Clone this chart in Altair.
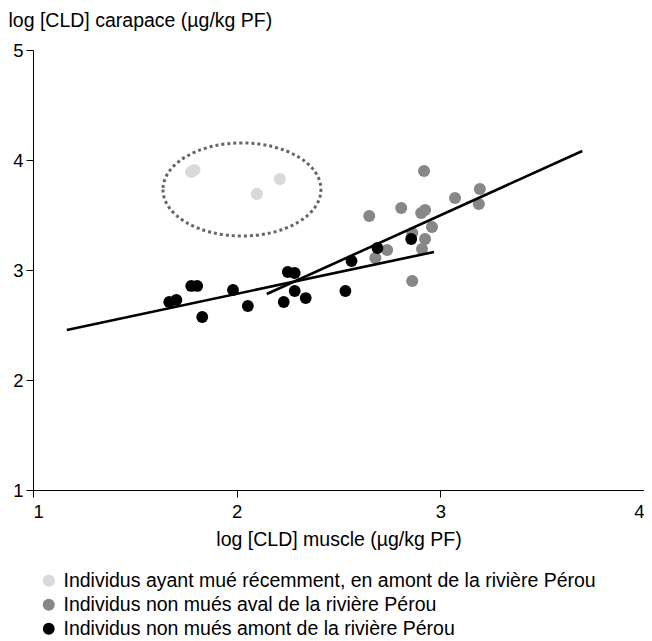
import altair as alt
import pandas as pd

# --- data ---
black_x = [1.669, 1.704, 1.777, 1.806, 1.831, 1.982, 2.055, 2.231, 2.251, 2.285, 2.285, 2.339, 2.534, 2.564, 2.691, 2.857]
black_y = [2.709, 2.727, 2.855, 2.855, 2.573, 2.818, 2.673, 2.709, 2.982, 2.973, 2.809, 2.745, 2.809, 3.082, 3.200, 3.282]

gray_x = [2.920, 3.194, 3.072, 3.189, 2.808, 2.651, 2.906, 2.925, 2.959, 2.925, 2.739, 2.910, 2.681, 2.862, 2.862]
gray_y = [3.900, 3.736, 3.655, 3.600, 3.564, 3.491, 3.518, 3.545, 3.391, 3.282, 3.182, 3.191, 3.109, 2.900, 3.336]

light_x = [1.777, 1.792, 2.099, 2.212]
light_y = [3.891, 3.909, 3.691, 3.827]

groups = [
    "Individus ayant mué récemment, en amont de la rivière Pérou",
    "Individus non mués aval de la rivière Pérou",
    "Individus non mués amont de la rivière Pérou",
]
colors = ["#d9d9d9", "#878787", "#000000"]

# regression lines (endpoints)
line_x1 = [1.166, 2.148]
line_y1 = [2.455, 2.782]
line_x2 = [2.969, 3.697]
line_y2 = [3.164, 4.082]

# ellipse annotation centre
ell_x = [2.026]
ell_y = [3.732]

x_ticks = [1, 2, 3, 4]
y_ticks = [1, 2, 3, 4, 5]

FONT = "Liberation Sans"

rows = []
for gx, gy, g in [(light_x, light_y, groups[0]), (gray_x, gray_y, groups[1]), (black_x, black_y, groups[2])]:
    for a, b in zip(gx, gy):
        rows.append({"x": a, "y": b, "g": g})
pts = pd.DataFrame(rows)
pts["ord"] = pts["g"].map({groups[0]: 0, groups[1]: 1, groups[2]: 2})

lines = pd.DataFrame({"x": line_x1, "y": line_y1, "x2": line_x2, "y2": line_y2})
ell = pd.DataFrame({"x": ell_x, "y": ell_y})

xs = alt.Scale(domain=[1, 4], nice=False, zero=False)
ys = alt.Scale(domain=[1, 5], nice=False, zero=False)

xaxis = alt.Axis(values=x_ticks, title="log [CLD] muscle (µg/kg PF)", grid=False,
                 tickSize=7, labelPadding=5, titlePadding=10, format="d")
yaxis = alt.Axis(values=y_ticks, title="log [CLD] carapace (µg/kg PF)", grid=False,
                 tickSize=7, labelPadding=3, titleAngle=0, titleAlign="left",
                 titleBaseline="alphabetic", titleX=-25, titleY=-24, format="d")

points = alt.Chart(pts).mark_circle(opacity=1).encode(
    x=alt.X("x:Q", scale=xs, axis=xaxis),
    y=alt.Y("y:Q", scale=ys, axis=yaxis),
    color=alt.Color("g:N", scale=alt.Scale(domain=groups, range=colors),
                    legend=alt.Legend(title=None, orient="none", legendX=6, legendY=521,
                                      symbolType="circle", symbolSize=130,
                                      symbolStrokeWidth=0, labelFontSize=19.5,
                                      labelColor="#000", rowPadding=3, padding=0,
                                      labelLimit=700, labelOffset=5)),
    size=alt.Size("g:N", scale=alt.Scale(domain=groups, range=[150, 140, 200]), legend=None),
    order=alt.Order("ord:Q"),
)

rules = alt.Chart(lines).mark_rule(color="#000", strokeWidth=2.6).encode(
    x="x:Q", y="y:Q", x2="x2:Q", y2="y2:Q"
)

ellipse = alt.Chart(ell).mark_point(
    shape="M-1,0A1,0.589,0,1,0,1,0A1,0.589,0,1,0,-1,0Z",
    size=24964, filled=False, stroke="#666666", strokeWidth=3, strokeDash=[3, 3], opacity=1
).encode(x="x:Q", y="y:Q")

chart = alt.layer(ellipse, points, rules).properties(
    width=611, height=440,
    autosize=alt.AutoSizeParams(type="none"),
    padding={"left": 25, "top": 42, "right": 0, "bottom": 150},
).configure_view(stroke=None).configure_axis(
    domainColor="#000", tickColor="#000", labelColor="#000", titleColor="#000",
    labelFont=FONT, titleFont=FONT, labelFontSize=18.5, titleFontSize=19.5,
    titleFontWeight="normal", domainWidth=1, tickWidth=1,
).configure_legend(labelFont=FONT)

chart.save("out.html", embed_options={"renderer": "svg", "actions": False})
